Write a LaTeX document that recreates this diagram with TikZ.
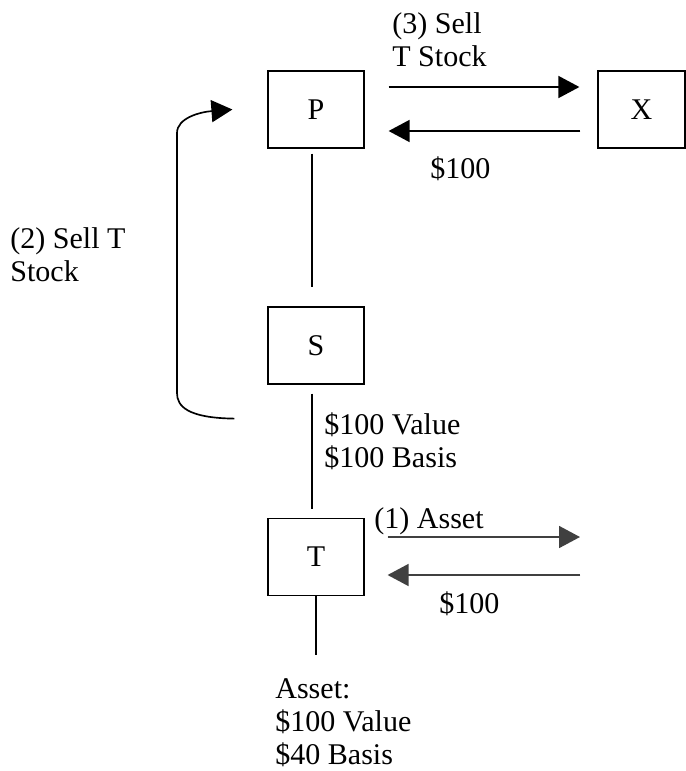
\documentclass[tikz,border=0pt]{standalone}
\usepackage{fontspec}
\setmainfont{Liberation Serif}
\usetikzlibrary{positioning,arrows.meta,calc}
\definecolor{inkgray}{HTML}{404040}

\begin{document}
\begin{tikzpicture}[x=0.02cm,y=-0.02cm,font=\fontsize{17.1}{18.8}\selectfont,
  box/.style={draw,line width=0.7pt,minimum width=1.92cm,minimum height=1.54cm,inner sep=0pt},
  flow/.style={-{Triangle[length=0.42cm,width=0.44cm]},line width=0.95pt},
  link/.style={line width=0.6pt},
  lbl/.style={anchor=north west,inner sep=0pt,align=left}]
\useasboundingbox (0,0) rectangle (686,771);
% entities
\node[box] (P) at (316,109.5) {P};
\node[box,minimum width=1.74cm] (X) at (641.5,109.5) {X};
\node[box] (S) at (316,345.5) {S};
\node[box] (T) at (316,557) {T};
% ownership lines
\draw[link,shorten <=0.1cm,shorten >=0.38cm] ([xshift=-0.08cm]P.south) -- ([xshift=-0.08cm]S.north);
\draw[link,shorten <=0.18cm,shorten >=0.18cm] ([xshift=-0.08cm]S.south) -- ([xshift=-0.08cm]T.north);
\coordinate (tasset) at (317,655);
\draw[link] (T.south) -- (T.south |- tasset);
% step 3: P and X
\draw[flow,shorten <=0.48cm,shorten >=0.36cm] ([yshift=0.45cm]P.east) -- ([yshift=0.45cm]X.west);
\draw[flow,shorten <=0.34cm,shorten >=0.48cm] ([yshift=-0.43cm]X.west) -- ([yshift=-0.43cm]P.east);
% step 2: S to P
\coordinate (loop) at ($(S.south west)+(-33,34)$);
\draw[flow] (loop) .. controls (187,418) and (177,406) .. (177,393) -- (177,133)
  .. controls (177,118) and (200,112) .. ([xshift=-0.7cm]P.west);
% step 1: T and outside
\coordinate (tout) at (580,557);
\draw[flow,draw=inkgray,fill=inkgray,shorten <=0.46cm] ([yshift=0.4cm]T.east) -- ([yshift=0.4cm]tout);
\draw[flow,draw=inkgray,fill=inkgray,shorten >=0.46cm] ([yshift=-0.36cm]tout) -- ([yshift=-0.36cm]T.east);
% labels
\node[lbl] (sell3) at (392,12) {(3) Sell\\T Stock};
\node[lbl] (cash3) at (430,156) {\$100};
\node[lbl] (sell2) at (10,227) {(2) Sell T\\Stock};
\node[lbl] (sval) at (324,412) {\$100 Value\\\$100 Basis};
\node[lbl] (asset1) at (374,507) {(1) Asset};
\node[lbl] (cash1) at (439,591) {\$100};
\node[lbl] (tval) at (275,678) {Asset:\\\$100 Value\\\$40 Basis};
\end{tikzpicture}
\end{document}
